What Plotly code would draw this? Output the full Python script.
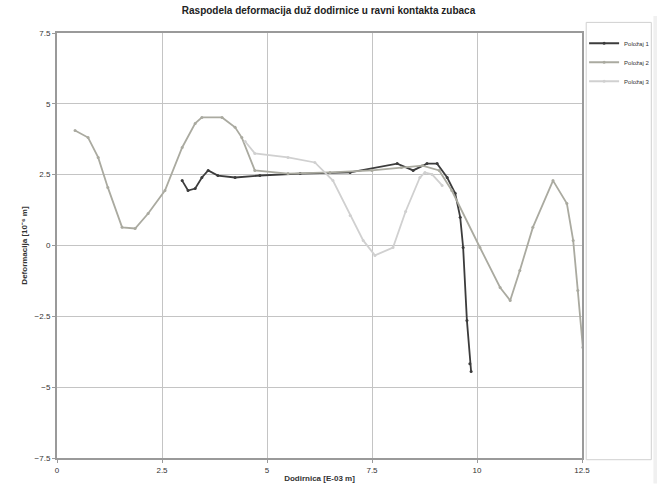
import plotly.graph_objects as go

# ---- data (x in E-03 m, y in deformation units) ----
x_p1 = [2.98, 3.12, 3.29, 3.45, 3.60, 3.83, 4.24, 4.83, 5.79, 6.98, 8.10, 8.48, 8.81, 9.05, 9.29, 9.48, 9.60, 9.67, 9.76, 9.83, 9.86]
y_p1 = [2.29, 1.94, 2.01, 2.40, 2.65, 2.47, 2.40, 2.47, 2.54, 2.58, 2.89, 2.65, 2.89, 2.89, 2.40, 1.84, 1.00, -0.07, -2.65, -4.17, -4.45]

x_p2 = [0.43, 0.74, 0.98, 1.21, 1.55, 1.86, 2.17, 2.57, 2.98, 3.29, 3.45, 3.93, 4.24, 4.40, 4.71, 5.50, 6.50, 7.50, 8.20, 8.70, 9.10, 9.40, 10.07, 10.55, 10.79, 11.02, 11.33, 11.81, 12.14, 12.29, 12.40, 12.52]
y_p2 = [4.06, 3.81, 3.11, 2.05, 0.64, 0.60, 1.13, 1.94, 3.46, 4.31, 4.52, 4.52, 4.17, 3.81, 2.65, 2.54, 2.58, 2.65, 2.75, 2.82, 2.65, 1.94, -0.07, -1.48, -1.94, -0.88, 0.64, 2.29, 1.48, 0.18, -1.59, -3.60]

x_p3 = [4.48, 4.71, 5.50, 6.14, 6.57, 6.98, 7.29, 7.57, 8.00, 8.30, 8.64, 8.76, 8.93, 9.17]
y_p3 = [3.67, 3.25, 3.11, 2.93, 2.29, 1.06, 0.18, -0.35, -0.07, 1.20, 2.40, 2.58, 2.51, 2.12]

series_names = ["Položaj 1", "Položaj 2", "Položaj 3"]
x_ticks = [0, 2.5, 5, 7.5, 10, 12.5]
y_ticks = [-7.5, -5, -2.5, 0, 2.5, 5, 7.5]

fig = go.Figure()
fig.add_trace(go.Scatter(x=x_p1, y=y_p1, name=series_names[0], mode="lines+markers",
                         line=dict(color="#3c3c3c", width=1.8), marker=dict(size=3, color="#3c3c3c")))
fig.add_trace(go.Scatter(x=x_p2, y=y_p2, name=series_names[1], mode="lines+markers",
                         line=dict(color="#aaaaa0", width=1.8), marker=dict(size=3, color="#aaaaa0")))
fig.add_trace(go.Scatter(x=x_p3, y=y_p3, name=series_names[2], mode="lines+markers",
                         line=dict(color="#d0d0d0", width=1.8), marker=dict(size=3, color="#d0d0d0")))

# legend panel frame at right
fig.add_shape(type="rect", xref="paper", yref="paper", x0=1.008, x1=1.132, y0=-0.004, y1=1.025,
              line=dict(color="#d0d0d0", width=1), fillcolor="rgba(0,0,0,0)", layer="below")
fig.add_shape(type="rect", xref="paper", yref="paper", x0=1.136, x1=1.15, y0=-0.06, y1=1.04,
              line=dict(width=0), fillcolor="#f0f0f0", layer="below")

fig.update_layout(
    width=657, height=495,
    margin=dict(l=57, r=75, t=33, b=37, autoexpand=False),
    paper_bgcolor="white", plot_bgcolor="white",
    font=dict(family="Liberation Sans, Arial", size=8, color="#333333"),
    title=dict(text="<b>Raspodela deformacija duž dodirnice u ravni kontakta zubaca</b>",
               x=0.5, xanchor="center", y=0.985, yanchor="top", font=dict(size=10, color="#222222")),
    xaxis=dict(range=[0, 12.5], tickvals=x_ticks, showgrid=True, gridcolor="#c4c4c4", gridwidth=1,
               zeroline=False, showline=True, linecolor="#9a9a9a", linewidth=2, mirror=True,
               ticks="outside", ticklen=3, tickcolor="#9a9a9a",
               title=dict(text="<b>Dodirnica [E-03 m]</b>", standoff=2, font=dict(size=8))),
    yaxis=dict(range=[-7.5, 7.5], tickvals=y_ticks, showgrid=True, gridcolor="#c4c4c4", gridwidth=1,
               zeroline=False, showline=True, linecolor="#9a9a9a", linewidth=2, mirror=True,
               ticks="outside", ticklen=3, tickcolor="#9a9a9a",
               title=dict(text="<b>Deformacija [10⁻⁶ m]</b>", standoff=6, font=dict(size=8))),
    legend=dict(x=1.004, xanchor="left", y=1.01, yanchor="top",
                borderwidth=0, font=dict(size=6), bgcolor="rgba(0,0,0,0)", itemwidth=30, tracegroupgap=0),
)

fig.write_html("out.html")
